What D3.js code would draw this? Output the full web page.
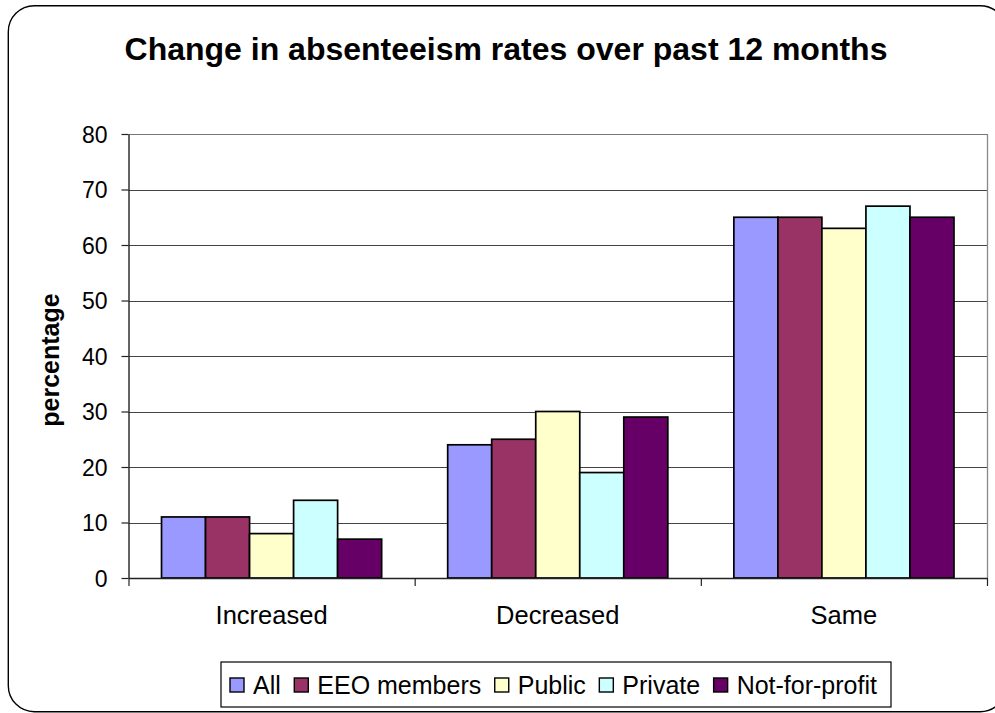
<!DOCTYPE html>
<html><head><meta charset="utf-8">
<script src="https://cdn.jsdelivr.net/npm/d3@7/dist/d3.min.js"></script>
<style>html,body{margin:0;padding:0;background:#fff;}svg{display:block;font-family:"Liberation Sans",Arial,sans-serif;}</style>
</head><body>
<svg id="c" width="995" height="713"></svg>
<script>
const categories = ["Increased", "Decreased", "Same"];
const seriesNames = ["All", "EEO members", "Public", "Private", "Not-for-profit"];
const seriesColors = ["#9999FF", "#993366", "#FFFFCC", "#CCFFFF", "#660066"];
const valAll = [11, 24, 65];
const valEEO = [11, 25, 65];
const valPublic = [8, 30, 63];
const valPrivate = [14, 19, 67];
const valNFP = [7, 29, 65];
const yTicks = [0, 10, 20, 30, 40, 50, 60, 70, 80];
const title = "Change in absenteeism rates over past 12 months";
const yLabel = "percentage";

const seriesValues = [valAll, valEEO, valPublic, valPrivate, valNFP];

const svg = d3.select("#c");
const plot = {left: 128.5, right: 987, top: 134, bottom: 578};

// outer rounded border
svg.append("rect").attr("x", 8.3).attr("y", 5.7).attr("width", 998).attr("height", 706)
  .attr("rx", 26).attr("ry", 26).attr("fill", "#fff").attr("stroke", "#000").attr("stroke-width", 1.4);

const x0 = d3.scaleBand().domain(categories).range([plot.left, plot.right]).paddingInner(0).paddingOuter(0);
const x1 = d3.scaleBand().domain(seriesNames).range([0, x0.bandwidth()]).paddingInner(0).paddingOuter(0.75);
const y = d3.scaleLinear().domain([0, 80]).range([plot.bottom, plot.top]);

// gridlines
svg.append("g").selectAll("line").data(yTicks.filter(d => d > 0)).join("line")
  .attr("x1", plot.left).attr("x2", plot.right)
  .attr("y1", d => Math.round(y(d)) + 0.5).attr("y2", d => Math.round(y(d)) + 0.5)
  .attr("stroke", d => d === 80 ? "#777" : "#444").attr("stroke-width", 1.1);

// right plot border
svg.append("line").attr("x1", plot.right + 0.5).attr("x2", plot.right + 0.5)
  .attr("y1", plot.top).attr("y2", plot.bottom).attr("stroke", "#888").attr("stroke-width", 1.3);

// bars
const rows = [];
categories.forEach((c, ci) => seriesNames.forEach((s, si) => rows.push({c, s, si, v: seriesValues[si][ci]})));
svg.append("g").selectAll("rect").data(rows).join("rect")
  .attr("x", d => x0(d.c) + x1(d.s))
  .attr("y", d => y(d.v))
  .attr("width", x1.bandwidth())
  .attr("height", d => y(0) - y(d.v))
  .attr("fill", d => seriesColors[d.si])
  .attr("stroke", "#000").attr("stroke-width", 1.7);

// y axis
const yAxis = d3.axisLeft(y).tickValues(yTicks).tickSize(7).tickPadding(14).tickSizeOuter(0);
const gy = svg.append("g").attr("transform", `translate(${plot.left},0)`).call(yAxis);
gy.select(".domain").attr("stroke", "#222").attr("stroke-width", 1.4);
gy.selectAll(".tick line").attr("stroke", "#222").attr("stroke-width", 1.2);
gy.selectAll(".tick text").attr("font-size", 23).attr("fill", "#000")
  .attr("font-family", "'Liberation Sans', Arial, sans-serif").attr("dy", "0.36em");

// x axis
const xAxis = d3.axisBottom(x0).tickSize(0).tickPadding(28).tickSizeOuter(0);
const gx = svg.append("g").attr("transform", `translate(0,${plot.bottom})`).call(xAxis);
gx.select(".domain").attr("stroke", "#222").attr("stroke-width", 1.4);
gx.selectAll(".tick text").attr("font-size", 25.5).attr("fill", "#000")
  .attr("font-family", "'Liberation Sans', Arial, sans-serif");
// category boundary ticks
const bounds = categories.map(c => x0(c)).concat([plot.right]);
svg.append("g").selectAll("line").data(bounds).join("line")
  .attr("x1", d => d + 0.5).attr("x2", d => d + 0.5)
  .attr("y1", plot.bottom).attr("y2", plot.bottom + 8)
  .attr("stroke", "#222").attr("stroke-width", 1.2);

// title
svg.append("text").attr("x", 506).attr("y", 60).attr("text-anchor", "middle")
  .attr("font-size", 32).attr("font-weight", "bold").attr("fill", "#000").text(title);

// y label
svg.append("text").attr("transform", `translate(59,${(plot.top + plot.bottom) / 2 + 4}) rotate(-90)`)
  .attr("text-anchor", "middle").attr("font-size", 25).attr("font-weight", "bold").attr("fill", "#000").text(yLabel);

// legend
const lg = svg.append("g");
lg.append("rect").attr("x", 221).attr("y", 662).attr("width", 670).attr("height", 45)
  .attr("fill", "#fff").attr("stroke", "#000").attr("stroke-width", 1.2);
let lx = 230;
const ly = 685;
seriesNames.forEach((s, i) => {
  lg.append("rect").attr("x", lx).attr("y", ly - 7).attr("width", 14).attr("height", 14)
    .attr("fill", seriesColors[i]).attr("stroke", "#000").attr("stroke-width", 1.4);
  const t = lg.append("text").attr("x", lx + 23).attr("y", ly).attr("dy", "0.36em")
    .attr("font-size", 25).attr("fill", "#000").text(s);
  lx += 23 + t.node().getComputedTextLength() + 13.5;
});
</script>
</body></html>
